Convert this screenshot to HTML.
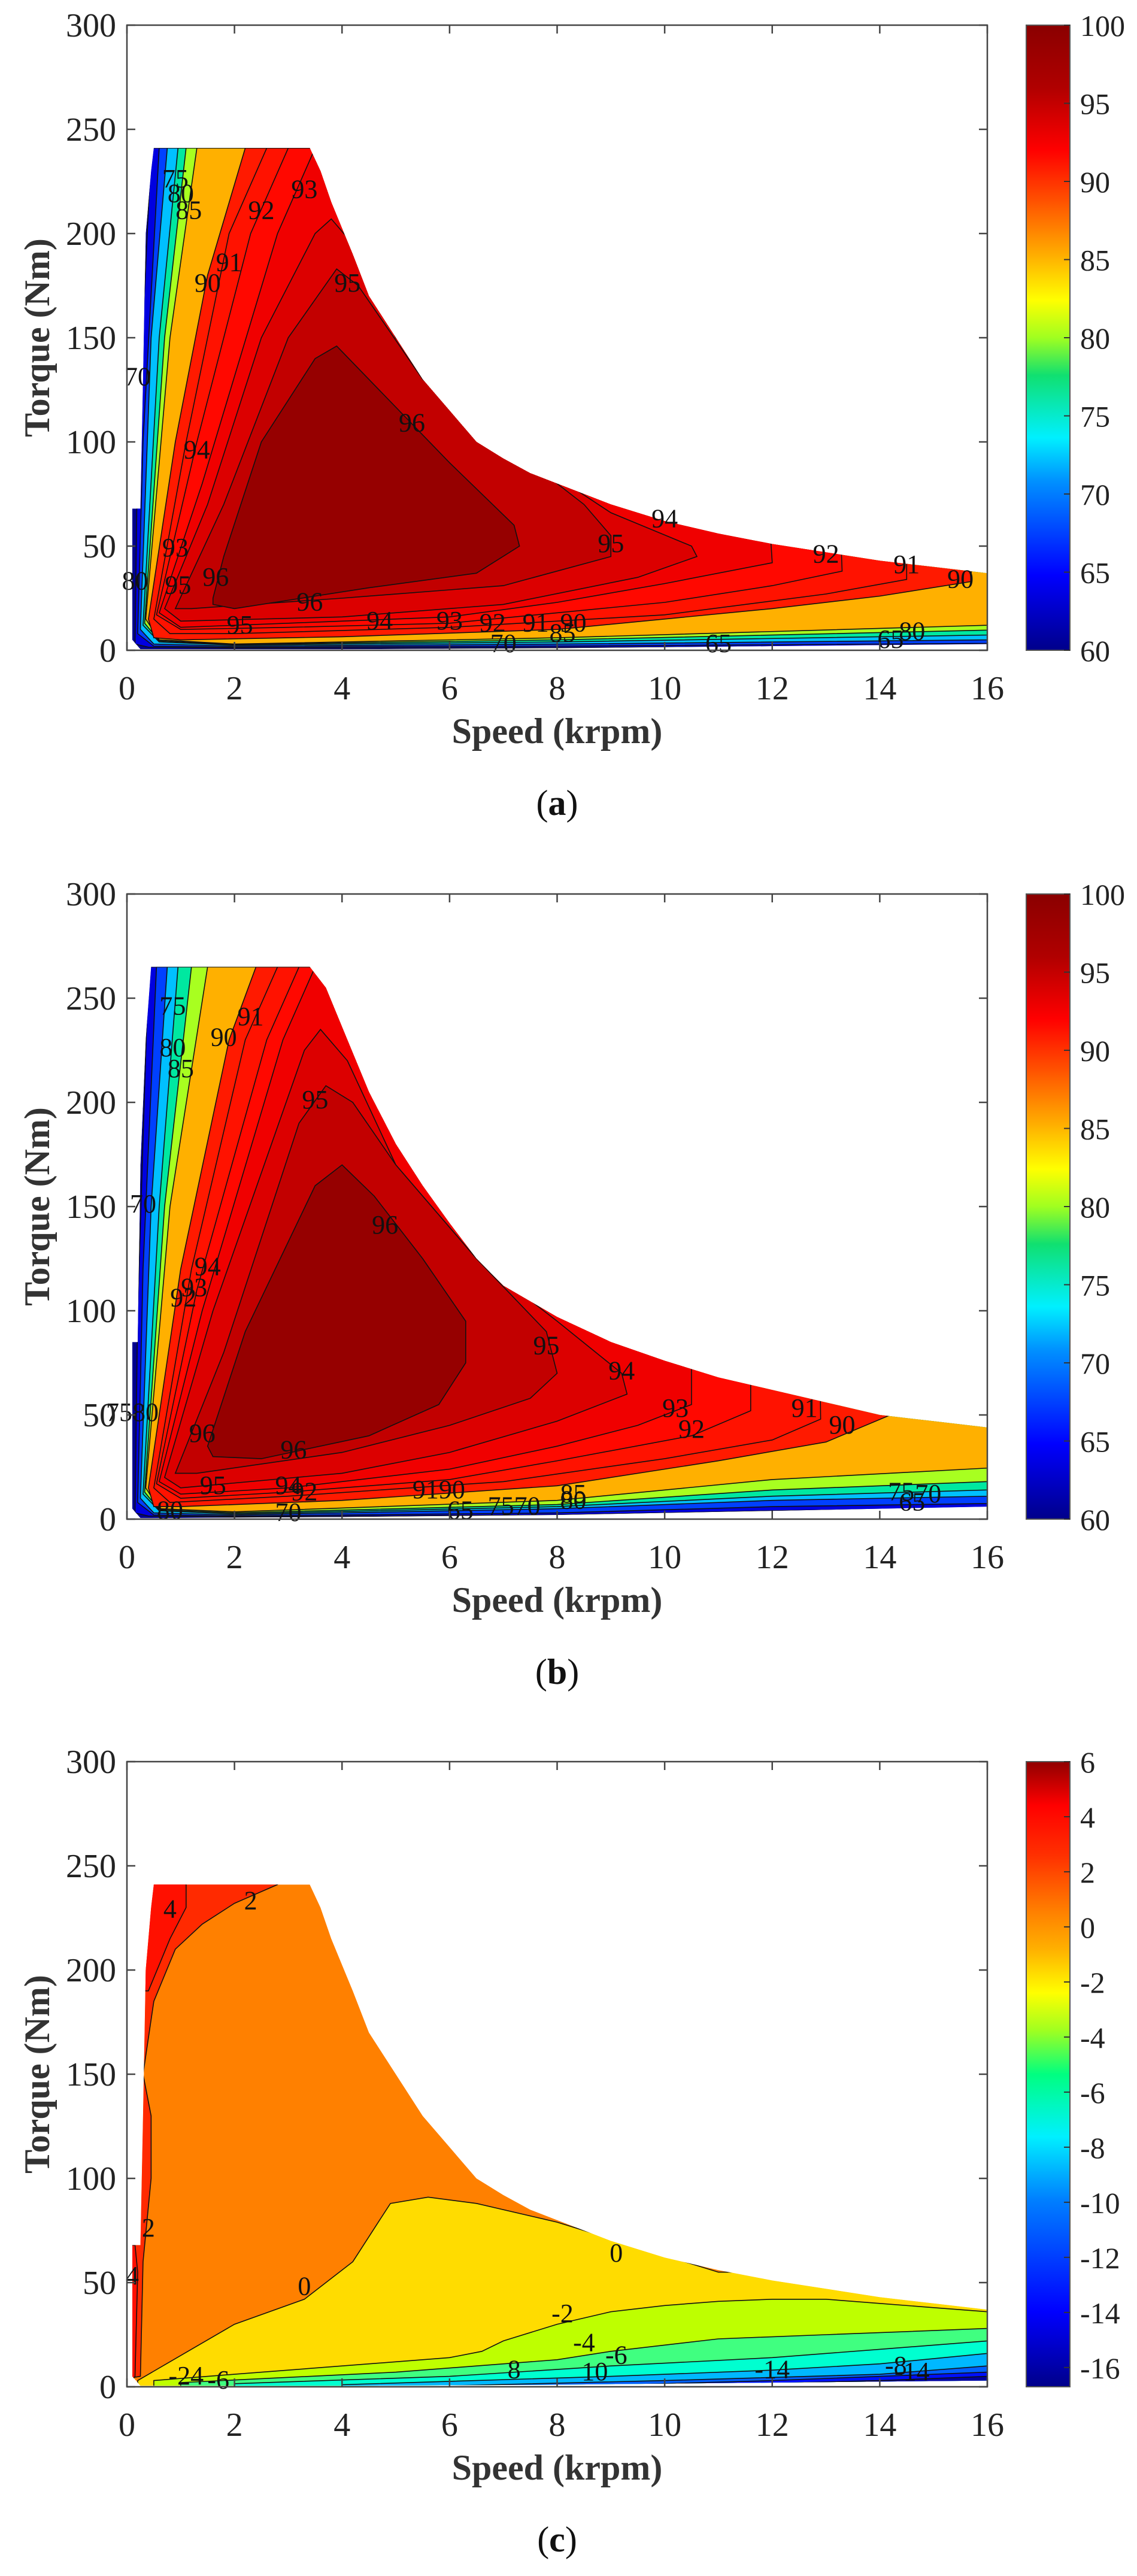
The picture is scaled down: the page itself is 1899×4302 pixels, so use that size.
<!DOCTYPE html>
<html><head><meta charset="utf-8"><style>
html,body{margin:0;padding:0;background:#fff;}
svg{display:block;font-family:"Liberation Serif",serif;}
</style></head>
<body>
<svg id="fig" width="1899" height="4302" viewBox="0 0 1899 4302" xmlns="http://www.w3.org/2000/svg">
<defs>
<linearGradient id="jetA" x1="0" y1="1" x2="0" y2="0">
<stop offset="0" stop-color="#00008a"/><stop offset="0.12" stop-color="#0000ff"/><stop offset="0.27" stop-color="#0090ff"/><stop offset="0.34" stop-color="#00f0ff"/><stop offset="0.44" stop-color="#10e070"/><stop offset="0.5" stop-color="#a0ff20"/><stop offset="0.56" stop-color="#ffff00"/><stop offset="0.63" stop-color="#ffb000"/><stop offset="0.72" stop-color="#ff5000"/><stop offset="0.8" stop-color="#ff0000"/><stop offset="0.9" stop-color="#b00000"/><stop offset="1" stop-color="#8a0000"/>
</linearGradient>
<linearGradient id="jetC" x1="0" y1="1" x2="0" y2="0">
<stop offset="0" stop-color="#00008a"/><stop offset="0.12" stop-color="#0000ff"/><stop offset="0.3" stop-color="#0080ff"/><stop offset="0.4" stop-color="#00f0ff"/><stop offset="0.5" stop-color="#00ff80"/><stop offset="0.57" stop-color="#a0ff20"/><stop offset="0.63" stop-color="#ffff00"/><stop offset="0.7" stop-color="#ffb000"/><stop offset="0.76" stop-color="#ff8000"/><stop offset="0.85" stop-color="#ff3000"/><stop offset="0.93" stop-color="#ff0000"/><stop offset="1" stop-color="#900000"/>
</linearGradient>
</defs>
</svg>
<script>
// ---------- data ----------
const xTicks = [0,2,4,6,8,10,12,14,16];
const yTicks = [0,50,100,150,200,250,300];
const cbTicksAB = [60,65,70,75,80,85,90,95,100];
const cbTicksC = [6,4,2,0,-2,-4,-6,-8,-10,-12,-14,-16];

const envA = [[0.25,0.5],[0.1,5],[0.1,68],[0.25,68],[0.3,130],[0.35,200],[0.45,230],[0.5,241],[3.4,241],[3.6,230],[3.8,215],[4.2,190],[4.5,170],[5,150],[5.5,130],[6,115],[6.5,100],[7,92],[7.5,85],[8,80],[9,70],[10,62],[11,56],[12,51],[13,47],[14,43],[15,40],[16,37],[16,3],[12,2],[8,1],[4,0.5]];
const envB = [[0.25,0.5],[0.1,5],[0.1,85],[0.2,85],[0.25,170],[0.35,230],[0.45,265],[3.4,265],[3.7,255],[4.1,230],[4.5,205],[5,180],[5.5,160],[6,142],[6.5,125],[7,112],[8,97],[9,85],[10,76],[11,68],[12,62],[13,56],[14,50],[15,47],[16,44],[16,6],[12,4],[8,2],[4,1]];
const envC = envA;

const levelsA = [
 [65,"#0000e0",[[0.15,3],[0.2,100],[0.45,241],[20,241],[20,3],[8,1.2],[2,1],[0.4,1.5]]],
 [70,"#0040ff",[[0.2,8],[0.3,100],[0.6,241],[20,241],[20,4],[8,2],[2,1.5],[0.5,2]]],
 [75,"#00c0ff",[[0.25,10],[0.45,150],[0.75,241],[20,241],[20,6],[8,3],[2,2],[0.5,3]]],
 [80,"#00e8a0",[[0.3,12],[0.6,150],[0.95,241],[20,241],[20,9],[8,4],[2,2.5],[0.6,4]]],
 [85,"#a8ff20",[[0.33,13],[0.7,150],[1.1,241],[20,241],[20,12],[8,5],[2,2.8],[0.6,4.5]]],
 [88,"#ffb000",[[0.35,15],[0.8,150],[1.3,241],[20,241],[20,15],[8,6],[2,3],[0.6,5]]],
 [90,"#ff1a00",[[0.4,15],[0.9,100],[1.5,180],[2.2,241],[20,241],[15.7,60],[15.7,33],[14,26],[12,20],[8,10],[4,6.5],[1,5],[0.5,6]]],
 [91,"#ff1200",[[0.5,15],[1.1,100],[1.9,200],[2.6,241],[14.5,241],[14.5,34],[13,27],[10,17],[6,11],[2,8],[0.8,8]]],
 [92,"#ff0800",[[0.55,17],[1.3,100],[2.3,200],[3.0,241],[13,241],[13.3,38],[12,31],[10,23],[8,18],[6,13],[3,11],[1,10]]],
 [93,"#f00000",[[0.6,18],[1.4,80],[2.8,200],[3.5,241],[11.5,241],[12,42],[10,32],[8,23],[6,16],[3,13],[1,11]]],
 [94,"#dc0000",[[0.7,20],[1.5,70],[2.5,150],[3.5,200],[3.8,207],[4.2,195],[5,150],[7,100],[9,66],[10.5,50],[10.6,45],[9.5,35],[7,22],[4,16],[1,14]]],
 [95,"#c20000",[[0.9,20],[1.8,70],[3,150],[3.9,183],[4.3,175],[5.5,130],[7,100],[8.5,70],[9,55],[9,45],[7,31],[4,25],[1.2,20]]],
 [96,"#960000",[[1.6,25],[1.8,45],[2.5,100],[3.5,140],[3.9,146],[4.5,130],[6,90],[7.2,60],[7.3,50],[6.5,37],[4.5,30],[2,20],[1.6,22]]]
];
const levelsB = [
 [65,"#0000e0",[[0.15,3],[0.2,100],[0.4,265],[20,265],[20,7],[12,4],[8,2],[2,1],[0.4,1.5]]],
 [70,"#0040ff",[[0.2,8],[0.3,120],[0.55,265],[20,265],[20,9],[12,6],[8,3],[2,1.5],[0.5,2]]],
 [75,"#00c0ff",[[0.25,10],[0.45,150],[0.75,265],[20,265],[20,13],[12,9],[8,5],[2,2],[0.5,3]]],
 [80,"#00e8a0",[[0.3,12],[0.6,150],[0.95,265],[20,265],[20,17],[12,11],[8,6],[2,2.5],[0.6,4]]],
 [85,"#a8ff20",[[0.33,13],[0.7,150],[1.2,265],[20,265],[20,22],[12,14],[8,7],[2,3],[0.6,4.5]]],
 [88,"#ffb000",[[0.35,15],[0.8,150],[1.5,265],[20,265],[20,30],[12,19],[8,9],[2,3.5],[0.6,5]]],
 [90,"#ff1a00",[[0.4,15],[1.0,120],[1.9,230],[2.4,265],[14,265],[14.2,50],[13,37],[11,28],[8,16],[4,9],[1,6],[0.5,6]]],
 [91,"#ff1200",[[0.5,15],[1.2,120],[2.2,230],[2.8,265],[12.8,265],[12.9,48],[12,38],[10,29],[7,18],[3,11],[0.8,8]]],
 [92,"#ff0800",[[0.55,17],[1.3,110],[2.6,230],[3.2,265],[11.6,265],[11.6,52],[10.5,40],[8,28],[6,19],[3,13],[1,10]]],
 [93,"#f00000",[[0.6,18],[1.4,100],[2.9,230],[3.5,265],[10.5,265],[10.5,55],[9.5,45],[8,35],[6,24],[3,15],[1,12]]],
 [94,"#dc0000",[[0.7,20],[1.6,100],[3.3,225],[3.6,235],[4.1,220],[5,170],[6.5,125],[8,95],[9.2,70],[9.3,60],[8,47],[6,32],[4,22],[1,15]]],
 [95,"#c20000",[[0.9,22],[1.8,80],[3.2,190],[3.7,208],[4.2,200],[5,170],[6.5,125],[7.8,90],[8,70],[7.5,58],[6,45],[4,32],[1.3,22]]],
 [96,"#960000",[[1.5,35],[2.2,90],[3.5,160],[4,170],[4.6,155],[5.5,125],[6.3,95],[6.3,75],[5.8,55],[4.5,40],[2.5,29],[1.6,30]]]
];
const levelsC = [
 [2,"#ff2a00",[[-1,0],[0.25,5],[0.3,60],[0.45,100],[0.45,130],[0.3,150],[0.5,185],[0.9,210],[1.4,222],[2,232],[2.8,241],[2.8,300],[-1,300]]],
 [4,"#ff1000",[[0.4,190],[0.8,215],[1.1,230],[1.1,241],[0.3,300],[0.3,190]]],
 [4.5,"#ff1000",[[0,0],[0.15,5],[0.2,55],[0.15,68],[0,68]]],
 [-0.1,"#ffdc00",[[0.2,3],[1,15],[2,30],[3.3,42],[4.2,60],[4.7,80],[4.9,88],[5.6,91],[6.5,88],[8,79],[9,71],[10,63],[11,55],[20,55],[20,-5],[0.2,-5]]],
 [-2,"#beff00",[[0.5,3],[2,6],[4,10],[6,14],[6.6,17],[7,22],[8,30],[9,36],[10,39],[11,41],[12,42],[13,42],[14,40],[15,38],[16,36],[20,36],[20,-5],[0.5,-5]]],
 [-4,"#40ff80",[[1,2],[5,7],[8,13],[9,17],[11,23],[13,25],[16,28],[20,28],[20,-5],[1,-5]]],
 [-6,"#00ffd0",[[2,1.5],[6,5],[9,10],[12,14],[14,18],[16,22],[20,22],[20,-5],[2,-5]]],
 [-8,"#00b8ff",[[4,1],[9,5],[12,8],[14,11],[16,16],[20,16],[20,-5],[4,-5]]],
 [-10,"#0060ff",[[6,0.5],[10,3],[14,6],[16,10],[20,10],[20,-5],[6,-5]]],
 [-12,"#0010ff",[[8,0],[12,3],[16,7],[20,7],[20,-5],[8,-5]]],
 [-14,"#0000a0",[[11,1],[14,3],[16,5],[20,5],[20,-5],[11,-5]]]
];
const labelsA = [[0.9,225,"75"],[1.0,218,"80"],[1.15,210,"85"],[1.5,175,"90"],[1.9,185,"91"],[2.5,210,"92"],[3.3,220,"93"],[4.1,175,"95"],[5.3,108,"96"],[1.3,95,"94"],[0.9,48,"93"],[0.95,30,"95"],[1.65,34,"96"],[3.4,22,"96"],[2.1,11,"95"],[4.7,13,"94"],[6,13,"93"],[6.8,12,"92"],[7.6,12,"91"],[8.3,12,"90"],[8.1,7,"85"],[11,2,"65"],[7,2,"70"],[14.2,4,"65"],[14.6,8,"80"],[9,50,"95"],[10,62,"94"],[13,45,"92"],[14.5,40,"91"],[15.5,33,"90"],[0.2,130,"70"],[0.15,32,"80"]];
const labelsB = [[0.85,245,"75"],[0.85,225,"80"],[1.0,215,"85"],[1.8,230,"90"],[2.3,240,"91"],[3.5,200,"95"],[4.8,140,"96"],[1.5,120,"94"],[1.25,110,"93"],[1.05,105,"92"],[0.3,150,"70"],[1.4,40,"96"],[3.1,32,"96"],[1.6,15,"95"],[3.0,15,"94"],[3.3,12,"92"],[5.8,13,"9190"],[8.3,11,"85"],[8.3,8,"80"],[6.2,3,"65"],[7.2,5,"7570"],[3,2,"70"],[0.8,3,"80"],[7.8,82,"95"],[9.2,70,"94"],[10.2,52,"93"],[10.5,42,"92"],[12.6,52,"91"],[13.3,44,"90"],[14.4,12,"75"],[14.9,11,"70"],[14.6,7,"65"],[0.1,50,"7580"]];
const labelsC = [[0.8,228,"4"],[2.3,232,"2"],[0.4,75,"2"],[0.1,52,"4"],[3.3,47,"0"],[9.1,63,"0"],[8.1,34,"-2"],[8.5,20,"-4"],[9.1,14,"-6"],[8.7,6,"10"],[7.2,7,"8"],[12,7,"-14"],[14.3,9,"-8"],[14.6,6,"-14"],[1.1,4,"-24"],[1.7,2,"-6"]];

// ---------- drawing ----------
const NS = "http://www.w3.org/2000/svg";
const svg = document.getElementById('fig');
const L = 212, R = 1649, H = 1044, CBX = 1714, CBW = 73;
function mk(tag, attrs, parent){const e=document.createElementNS(NS,tag);for(const k in attrs)e.setAttribute(k,attrs[k]);(parent||svg).appendChild(e);return e;}
function xs(s){return L + s/16*(R-L);}
function ysFn(top){return t => top + (300-t)/300*H;}

function panel(idx, top, env, levels, labels, cbMin, cbMax, cbTicks, grad, caption){
  const ys = ysFn(top);
  const g = mk('g',{});
  
  
  const clip = mk('clipPath',{id:'clip'+idx},g);
  const pts = a => a.map(p=>xs(p[0]).toFixed(1)+','+ys(p[1]).toFixed(1)).join(' ');
  mk('polygon',{points:pts(env)},clip);
  const area = mk('g',{'clip-path':'url(#clip'+idx+')'},g);
  
  
  const baseColor = idx===2 ? '#ff8000' : '#00008f';
  const base = mk('polygon',{points:pts(env),fill:baseColor},area);
  
  
  levels.forEach(lv=>{
    const p = mk('polygon',{points:pts(lv[2]),fill:lv[1],stroke:'#111',"stroke-width":1.6},area);
    
    
  });
  labels.forEach(lb=>{
    const t = mk('text',{x:xs(lb[0]),y:ys(lb[1]),"font-size":44,"text-anchor":"middle","dominant-baseline":"middle",fill:'#111'},g);
    t.textContent = lb[2];
    
    
  });
  const box = mk('rect',{x:L,y:top,width:R-L,height:H,fill:'none',stroke:'#444',"stroke-width":2.5},g);
  
  
  xTicks.forEach(v=>{
    mk('line',{x1:xs(v),x2:xs(v),y1:top+H,y2:top+H-14,stroke:'#444',"stroke-width":2.5},g);
    mk('line',{x1:xs(v),x2:xs(v),y1:top,y2:top+14,stroke:'#444',"stroke-width":2.5},g);
    const t = mk('text',{x:xs(v),y:top+H+82,"font-size":56,"text-anchor":"middle",fill:'#222'},g);
    t.textContent = v;
    
    
  });
  yTicks.forEach(v=>{
    mk('line',{x1:L,x2:L+14,y1:ys(v),y2:ys(v),stroke:'#444',"stroke-width":2.5},g);
    mk('line',{x1:R,x2:R-14,y1:ys(v),y2:ys(v),stroke:'#444',"stroke-width":2.5},g);
    const t = mk('text',{x:194,y:ys(v)+19,"font-size":56,"text-anchor":"end",fill:'#222'},g);
    t.textContent = v;
    
    
  });
  const xt = mk('text',{x:(L+R)/2,y:top+H+155,"font-size":60,"font-weight":"bold","text-anchor":"middle",fill:'#333'},g);
  xt.textContent='Speed (krpm)';
  
  
  const yt = mk('text',{x:0,y:0,"font-size":60,"font-weight":"bold","text-anchor":"middle",fill:'#333',transform:'translate(82,'+(top+H/2)+') rotate(-90)'},g);
  yt.textContent='Torque (Nm)';
  
  
  const cb = mk('rect',{x:CBX,y:top,width:CBW,height:H,fill:'url(#'+grad+')',stroke:'#555',"stroke-width":2},g);
  
  
  const cy = v => top + (cbMax-v)/(cbMax-cbMin)*H;
  cbTicks.forEach(v=>{
    mk('line',{x1:CBX+CBW-10,x2:CBX+CBW,y1:cy(v),y2:cy(v),stroke:'#333',"stroke-width":2},g);
    const t = mk('text',{x:1804,y:cy(v)+18,"font-size":50,fill:'#222'},g);
    t.textContent = v;
    
    
  });
  const cap = mk('text',{x:(L+R)/2,y:top+H+275,"font-size":60,"text-anchor":"middle",fill:'#111'},g);
  cap.innerHTML = '(<tspan font-weight="bold">'+caption+'</tspan>)';
  
  
}
panel(0, 42, envA, levelsA, labelsA, 60, 100, cbTicksAB, 'jetA', 'a');
panel(1, 1493, envB, levelsB, labelsB, 60, 100, cbTicksAB, 'jetA', 'b');
panel(2, 2942, envC, levelsC, labelsC, -16.7, 6, cbTicksC, 'jetC', 'c');
</script>
</body></html>
